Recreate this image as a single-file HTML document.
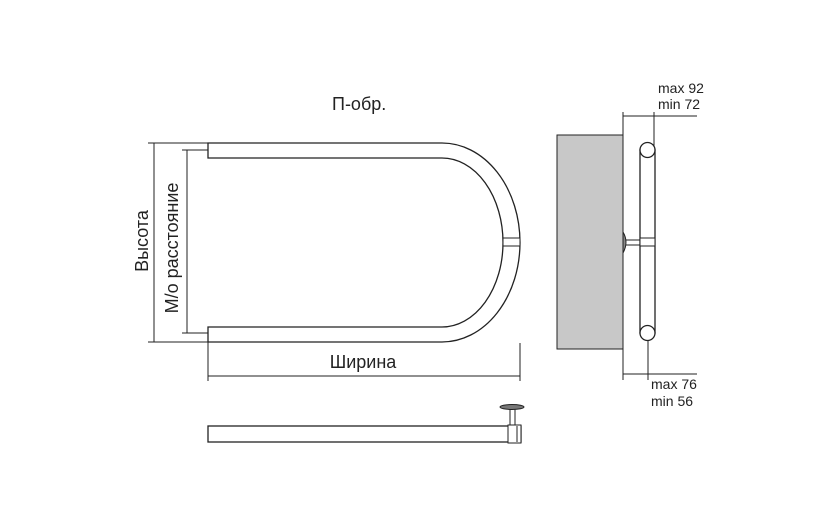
<!DOCTYPE html>
<html><head><meta charset="utf-8"><style>
html,body{margin:0;padding:0;background:#fff;}
svg{display:block;}
text{font-family:"Liberation Sans",sans-serif;fill:#222;}
</style></head><body>
<svg width="838" height="528" viewBox="0 0 838 528" xmlns="http://www.w3.org/2000/svg">
<g fill="none" stroke="#222" stroke-width="1.3">
<path d="M208,143 L442,143 A78,99.5 0 0 1 442,342 L208,342 L208,327 L442,327 A61,84.5 0 0 0 442,158 L208,158 Z" fill="#fff"/>
<rect x="503" y="238" width="17" height="8" fill="#fff" stroke-width="1"/>
<line x1="154" y1="143" x2="154" y2="342" stroke-width="1"/>
<line x1="148" y1="143" x2="208" y2="143" stroke-width="1"/>
<line x1="148" y1="342" x2="208" y2="342" stroke-width="1"/>
<line x1="187" y1="150" x2="187" y2="333" stroke-width="1"/>
<line x1="182" y1="150" x2="208" y2="150" stroke-width="1"/>
<line x1="182" y1="333" x2="208" y2="333" stroke-width="1"/>
<line x1="208" y1="376" x2="520" y2="376" stroke-width="1"/>
<line x1="208" y1="342" x2="208" y2="381" stroke-width="1"/>
<line x1="520" y1="343" x2="520" y2="381" stroke-width="1"/>
<rect x="557" y="135" width="66" height="214" fill="#c8c8c8" stroke-width="1"/>
<line x1="623" y1="112" x2="623" y2="380" stroke-width="1"/>
<line x1="654" y1="112" x2="654" y2="150" stroke-width="1"/>
<line x1="623" y1="116" x2="697" y2="116" stroke-width="1"/>
<line x1="648" y1="338" x2="648" y2="380" stroke-width="1"/>
<line x1="623" y1="374" x2="697" y2="374" stroke-width="1"/>
<rect x="640" y="150" width="15" height="183" fill="#fff"/>
<circle cx="647.5" cy="150" r="7.5" fill="#fff"/>
<circle cx="647.5" cy="333" r="7.5" fill="#fff"/>
<rect x="640" y="238" width="15" height="8" fill="#fff" stroke-width="1"/>
<line x1="626" y1="240" x2="640" y2="240" stroke-width="1"/>
<line x1="626" y1="245" x2="640" y2="245" stroke-width="1"/>
<path d="M623,232 Q629,242 623,253 Z" fill="#888" stroke-width="1"/>
<rect x="208" y="426" width="313" height="16" fill="#fff"/>
<rect x="508" y="425" width="13" height="18" fill="#fff" stroke-width="1"/>
<line x1="517" y1="426" x2="517" y2="442" stroke-width="1"/>
<rect x="510" y="408" width="5" height="17" fill="#fff" stroke-width="1"/>
<ellipse cx="512" cy="407" rx="12" ry="2.5" fill="#777" stroke-width="1"/>
</g>
<g font-size="18">
<text x="332" y="110">П-обр.</text>
<text x="363" y="368" text-anchor="middle">Ширина</text>
<text transform="translate(148,241) rotate(-90)" text-anchor="middle">Высота</text>
<text transform="translate(178,248) rotate(-90)" text-anchor="middle">М/о расстояние</text>
</g>
<g font-size="14">
<text x="658" y="93">max 92</text>
<text x="658" y="109">min 72</text>
<text x="651" y="389">max 76</text>
<text x="651" y="406">min 56</text>
</g>
</svg>
</body></html>
